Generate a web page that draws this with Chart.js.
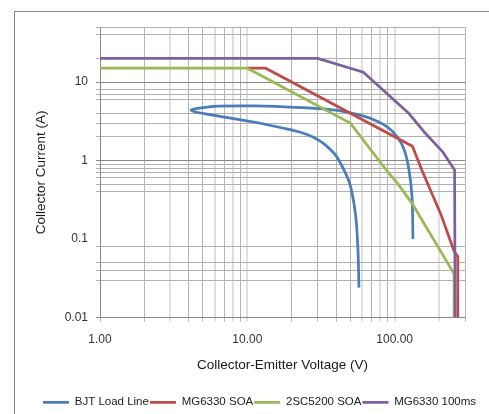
<!DOCTYPE html>
<html><head><meta charset="utf-8">
<script src="https://cdn.jsdelivr.net/npm/chart.js@4.4.1/dist/chart.umd.min.js"></script>
<style>
html,body{margin:0;padding:0;background:#fff;overflow:hidden;width:489px;height:414px}
#frame{position:absolute;left:14px;top:11px;width:600px;height:500px;border-left:1px solid #878787;border-top:1px solid #878787}
#wrap{position:absolute;left:15px;top:12px;width:489px;height:420px}
</style></head><body>
<div id="frame"></div>
<div id="wrap"><canvas id="c" width="489" height="420"></canvas></div>
<script>
// ---- data ----
const seriesNames = ['BJT Load Line', 'MG6330 SOA', '2SC5200 SOA', 'MG6330 100ms'];
const seriesColors = ['#4a7ebb', '#be4b48', '#98b954', '#7d60a0'];

const blueV = [133, 131, 125, 116, 104, 89, 69, 50, 40, 30.5, 18, 10.8, 6.4, 4.9, 4.16, 4.45, 6.4, 10.8, 18, 22.9, 27.6, 32.3, 36.6, 40.4, 45.2, 50, 54.3, 56.3, 57.2];
const blueI = [0.1, 0.35, 0.76, 1.37, 2.01, 2.69, 3.43, 4.05, 4.38, 4.59, 4.83, 4.97, 4.92, 4.69, 4.4, 4.15, 3.68, 3.12, 2.56, 2.29, 2.01, 1.69, 1.38, 1.12, 0.76, 0.48, 0.2, 0.074, 0.024];

const redV = [10, 13.3, 20, 50, 132, 154, 206, 253, 268, 268];
const redI = [15, 15, 10, 4.0, 1.52, 0.73, 0.205, 0.07, 0.06, 0.01];

const greenV = [1, 10, 50, 89, 104, 132, 253, 253];
const greenI = [15, 15, 3, 0.73, 0.52, 0.28, 0.036, 0.01];

const purpleV = [1, 30, 50, 61, 125, 158, 211, 255, 257];
const purpleI = [20, 20, 15, 13.4, 3.97, 2.33, 1.3, 0.76, 0.01];

const xTicks = [1, 2, 3, 4, 5, 6, 7, 8, 9, 10, 20, 30, 40, 50, 60, 70, 80, 90, 100, 200, 300];
const xLightTicks = [3, 6, 8, 10, 60, 80, 100, 200];
const xLabels = {1: '1.00', 10: '10.00', 100: '100.00'};

const yTicks = [0.01, 0.03, 0.04, 0.05, 0.08, 0.1, 0.4, 0.5, 0.6, 0.7, 0.8, 0.9, 1, 2, 3, 4, 6, 7, 8, 10, 20, 40, 50];
const yMajorTicks = [0.01, 1, 10];
const yHiddenLines = [0.1];
const yLabels = {0.01: '0.01', 0.1: '0.1', 1: '1', 10: '10'};

const xTitle = 'Collector-Emitter Voltage (V)';
const yTitle = 'Collector Current (A)';

// ---- chart ----
const FONT = '"Liberation Sans", Arial, sans-serif';
const pts = (xs, ys) => xs.map((x, i) => ({x: x, y: ys[i]}));
const allV = [blueV, redV, greenV, purpleV];
const allI = [blueI, redI, greenI, purpleI];

const datasets = seriesNames.map((name, i) => ({
  label: name,
  data: pts(allV[i], allI[i]),
  borderColor: seriesColors[i],
  backgroundColor: seriesColors[i],
  borderWidth: 2.75,
  pointRadius: 0,
  showLine: true,
  tension: i === 0 ? 0.35 : 0,
  order: 4 - i,
  borderJoinStyle: 'round'
}));

new Chart(document.getElementById('c'), {
  type: 'scatter',
  data: { datasets },
  options: {
    responsive: false,
    animation: false,
    devicePixelRatio: 1,
    layout: { padding: { left: 0, right: 0, top: 11, bottom: 14 } },
    plugins: {
      tooltip: { enabled: false },
      legend: {
        position: 'bottom',
        labels: {
          usePointStyle: true,
          pointStyle: 'line',
          pointStyleWidth: 26,
          padding: 1,
          color: '#222',
          font: { family: FONT, size: 11.5 },
          sort: (a, b) => a.datasetIndex - b.datasetIndex
        }
      }
    },
    scales: {
      x: {
        type: 'logarithmic',
        min: 1, max: 300, bounds: 'data',
        afterBuildTicks: (s) => { s.ticks = xTicks.map(v => ({ value: v })); },
        afterFit: (s) => { s.height = 78; },
        ticks: {
          autoSkip: false, maxRotation: 0, padding: 11,
          color: '#333', font: { family: FONT, size: 12 },
          callback: (v) => xLabels[v] || ''
        },
        grid: {
          tickLength: 4,
          color: (c) => xLightTicks.includes(c.tick.value) ? '#e0e0e0' : '#b5b5b5',
          lineWidth: (c) => xLightTicks.includes(c.tick.value) ? 2 : 1
        },
        border: { color: '#878787', width: 1 },
        title: {
          display: true, text: xTitle, color: '#1a1a1a',
          font: { family: FONT, size: 13.5 },
          padding: { top: 8, bottom: 22.5 }
        }
      },
      y: {
        type: 'logarithmic',
        min: 0.01, max: 50, bounds: 'data',
        afterBuildTicks: (s) => { s.ticks = yTicks.map(v => ({ value: v })); },
        afterFit: (s) => { s.width = 85; },
        ticks: {
          autoSkip: false, padding: 8,
          color: '#333', font: { family: FONT, size: 12 },
          callback: (v) => yLabels[v] || ''
        },
        grid: {
          tickLength: 4,
          color: (c) => yHiddenLines.includes(c.tick.value) ? 'rgba(0,0,0,0)' :
                        (yMajorTicks.includes(c.tick.value) ? '#878787' : '#b0b0b0'),
          lineWidth: 1
        },
        border: { color: '#878787', width: 1 },
        title: {
          display: true, text: yTitle, color: '#1a1a1a',
          font: { family: FONT, size: 13.5 },
          padding: { top: 18, bottom: 0 }
        }
      },
      yRightSpace: {
        type: 'linear',
        position: 'right',
        display: true,
        ticks: { display: false },
        grid: { display: false, drawOnChartArea: false, drawTicks: false },
        border: { display: false },
        afterFit: (s) => { s.width = 39; }
      }
    }
  }
});
</script>
</body></html>
